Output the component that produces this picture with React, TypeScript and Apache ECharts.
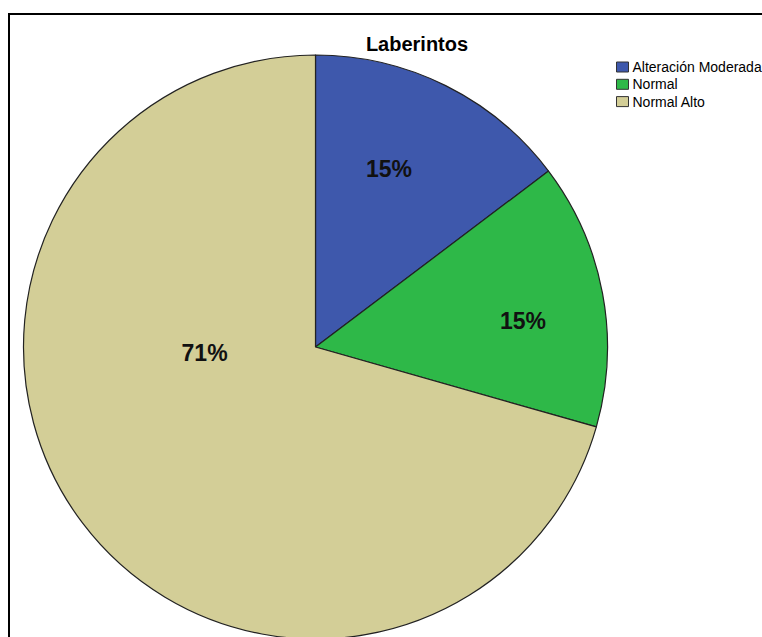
import React, { useEffect, useRef } from "react";
import * as echarts from "echarts";

const categories = ["Alteración Moderada", "Normal", "Normal Alto"];
const counts = [5, 5, 24];
const percentLabels = ["15%", "15%", "71%"];
const colors = ["#3E58AC", "#2EB848", "#D3CE97"];
const titleText = "Laberintos";

// label nudges relative to the library's "inside" position (style, not data)
const labelNudge = [
  [7, -45],
  [61, 1],
  [8, -84],
];

const FONT = "'Liberation Sans', Arial, Helvetica, sans-serif";

export default function App() {
  const ref = useRef<HTMLDivElement>(null);
  useEffect(() => {
    if (!ref.current) return;
    const chart = echarts.init(ref.current, undefined, { renderer: "svg" });
    const data = categories.map((name, i) => ({
      name,
      value: counts[i],
      itemStyle: { color: colors[i] },
    }));
    chart.setOption({
      animation: false,
      backgroundColor: "#ffffff",
      graphic: [
        {
          type: "rect",
          shape: { x: 9, y: 14, width: 900, height: 800 },
          style: { fill: "transparent", stroke: "#000", lineWidth: 2 },
          z: 100,
          silent: true,
        },
      ],
      title: {
        text: titleText,
        left: 412,
        top: 29,
        textAlign: "center",
        textStyle: {
          fontFamily: FONT,
          fontSize: 20,
          fontWeight: "bold",
          color: "#000",
        },
      },
      legend: {
        orient: "vertical",
        left: 616,
        top: 60,
        itemWidth: 12,
        itemHeight: 10,
        itemGap: 3.3,
        icon: "rect",
        padding: 0,
        selectedMode: false,
        itemStyle: { borderColor: "#333", borderWidth: 1 },
        textStyle: {
          fontFamily: FONT,
          fontSize: 14,
          lineHeight: 14,
          color: "#000",
          padding: [0, 0, 0, -1],
        },
        data: categories,
      },
      series: [
        {
          type: "pie",
          center: [315.5, 347],
          radius: 292,
          startAngle: 90,
          clockwise: true,
          data,
          itemStyle: { borderColor: "#222", borderWidth: 1.2 },
          label: {
            show: true,
            position: "inside",
            formatter: (p: any) => percentLabels[p.dataIndex],
            fontFamily: FONT,
            fontSize: 23,
            fontWeight: "bold",
            color: "#111",
          },
          labelLayout: (p: any) => ({
            dx: labelNudge[p.dataIndex][0],
            dy: labelNudge[p.dataIndex][1],
          }),
          emphasis: { disabled: true },
        },
      ],
    });
    return () => chart.dispose();
  }, []);
  return (
    <div
      ref={ref}
      style={{ position: "absolute", left: 0, top: 0, width: 762, height: 637 }}
    />
  );
}
